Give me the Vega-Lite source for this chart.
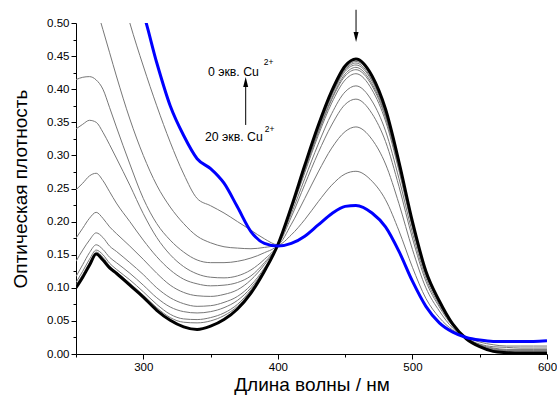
{
"$schema": "https://vega.github.io/schema/vega-lite/v6.json",
"width": 471,
"height": 331,
"autosize": {"type": "none"},
"padding": {"left": 76, "top": 23, "right": 10, "bottom": 47},
"background": "white",
"config": {"view": {"stroke": null}, "font": "Liberation Sans"},
"datasets": {
"spectra": [
{"s":"k","w":250,"a":0.100},{"s":"k","w":255,"a":0.116},{"s":"k","w":260,"a":0.134},{"s":"k","w":265,"a":0.151},{"s":"k","w":270,"a":0.142},{"s":"k","w":275,"a":0.130},{"s":"k","w":280,"a":0.122},{"s":"k","w":290,"a":0.104},{"s":"k","w":300,"a":0.086},{"s":"k","w":310,"a":0.066},{"s":"k","w":320,"a":0.051},{"s":"k","w":330,"a":0.041},{"s":"k","w":340,"a":0.037},{"s":"k","w":350,"a":0.042},{"s":"k","w":360,"a":0.052},{"s":"k","w":370,"a":0.068},{"s":"k","w":380,"a":0.092},{"s":"k","w":390,"a":0.125},{"s":"k","w":400,"a":0.165},
{"s":"k","w":410,"a":0.222},{"s":"k","w":420,"a":0.285},{"s":"k","w":430,"a":0.345},{"s":"k","w":440,"a":0.397},{"s":"k","w":450,"a":0.435},{"s":"k","w":458,"a":0.4456},{"s":"k","w":470,"a":0.420},{"s":"k","w":480,"a":0.370},{"s":"k","w":490,"a":0.290},{"s":"k","w":500,"a":0.200},{"s":"k","w":510,"a":0.125},{"s":"k","w":520,"a":0.080},{"s":"k","w":530,"a":0.045},{"s":"k","w":540,"a":0.023},{"s":"k","w":550,"a":0.011},{"s":"k","w":560,"a":0.004},{"s":"k","w":570,"a":0.002},{"s":"k","w":580,"a":0.001},{"s":"k","w":590,"a":0.001},{"s":"k","w":600,"a":0.001},
{"s":"b","w":250,"a":0.85},{"s":"b","w":255,"a":0.80},{"s":"b","w":260,"a":0.76},{"s":"b","w":265,"a":0.72},{"s":"b","w":270,"a":0.68},{"s":"b","w":275,"a":0.65},{"s":"b","w":280,"a":0.62},{"s":"b","w":290,"a":0.565},{"s":"b","w":300,"a":0.515},{"s":"b","w":310,"a":0.440},{"s":"b","w":320,"a":0.375},{"s":"b","w":330,"a":0.330},{"s":"b","w":340,"a":0.295},{"s":"b","w":350,"a":0.280},{"s":"b","w":360,"a":0.258},{"s":"b","w":370,"a":0.222},{"s":"b","w":380,"a":0.185},{"s":"b","w":390,"a":0.167},{"s":"b","w":400,"a":0.163},
{"s":"b","w":410,"a":0.167},{"s":"b","w":420,"a":0.178},{"s":"b","w":430,"a":0.195},{"s":"b","w":440,"a":0.212},{"s":"b","w":450,"a":0.223},{"s":"b","w":458,"a":0.2245},{"s":"b","w":470,"a":0.213},{"s":"b","w":480,"a":0.192},{"s":"b","w":490,"a":0.155},{"s":"b","w":500,"a":0.110},{"s":"b","w":510,"a":0.072},{"s":"b","w":520,"a":0.047},{"s":"b","w":530,"a":0.033},{"s":"b","w":540,"a":0.025},{"s":"b","w":550,"a":0.021},{"s":"b","w":560,"a":0.019},{"s":"b","w":570,"a":0.019},{"s":"b","w":580,"a":0.019},{"s":"b","w":590,"a":0.019},{"s":"b","w":600,"a":0.020},
{"s":"g01","w":250,"a":0.80},{"s":"g01","w":255,"a":0.77},{"s":"g01","w":260,"a":0.74},{"s":"g01","w":265,"a":0.70},{"s":"g01","w":270,"a":0.66},{"s":"g01","w":275,"a":0.615},{"s":"g01","w":280,"a":0.575},{"s":"g01","w":290,"a":0.50},{"s":"g01","w":300,"a":0.435},{"s":"g01","w":310,"a":0.375},{"s":"g01","w":320,"a":0.320},{"s":"g01","w":330,"a":0.272},{"s":"g01","w":340,"a":0.235},{"s":"g01","w":350,"a":0.224},{"s":"g01","w":360,"a":0.213},{"s":"g01","w":370,"a":0.200},{"s":"g01","w":380,"a":0.187},{"s":"g01","w":390,"a":0.174},{"s":"g01","w":400,"a":0.165},
{"s":"g01","w":410,"a":0.180},{"s":"g01","w":420,"a":0.203},{"s":"g01","w":430,"a":0.230},{"s":"g01","w":440,"a":0.255},{"s":"g01","w":450,"a":0.272},{"s":"g01","w":458,"a":0.276},{"s":"g01","w":470,"a":0.261},{"s":"g01","w":480,"a":0.233},{"s":"g01","w":490,"a":0.186},{"s":"g01","w":500,"a":0.131},{"s":"g01","w":510,"a":0.084},{"s":"g01","w":520,"a":0.055},{"s":"g01","w":530,"a":0.036},{"s":"g01","w":540,"a":0.025},{"s":"g01","w":550,"a":0.018},{"s":"g01","w":560,"a":0.014},{"s":"g01","w":570,"a":0.012},{"s":"g01","w":580,"a":0.012},{"s":"g01","w":590,"a":0.012},{"s":"g01","w":600,"a":0.012},
{"s":"g02","w":250,"a":0.62},{"s":"g02","w":255,"a":0.59},{"s":"g02","w":260,"a":0.56},{"s":"g02","w":265,"a":0.525},{"s":"g02","w":270,"a":0.49},{"s":"g02","w":275,"a":0.455},{"s":"g02","w":280,"a":0.42},{"s":"g02","w":290,"a":0.355},{"s":"g02","w":300,"a":0.300},{"s":"g02","w":310,"a":0.255},{"s":"g02","w":320,"a":0.222},{"s":"g02","w":330,"a":0.197},{"s":"g02","w":340,"a":0.178},{"s":"g02","w":350,"a":0.168},{"s":"g02","w":360,"a":0.162},{"s":"g02","w":370,"a":0.160},{"s":"g02","w":380,"a":0.159},{"s":"g02","w":390,"a":0.161},{"s":"g02","w":400,"a":0.165},
{"s":"g02","w":410,"a":0.196},{"s":"g02","w":420,"a":0.235},{"s":"g02","w":430,"a":0.275},{"s":"g02","w":440,"a":0.311},{"s":"g02","w":450,"a":0.336},{"s":"g02","w":458,"a":0.343},{"s":"g02","w":470,"a":0.324},{"s":"g02","w":480,"a":0.287},{"s":"g02","w":490,"a":0.227},{"s":"g02","w":500,"a":0.158},{"s":"g02","w":510,"a":0.100},{"s":"g02","w":520,"a":0.065},{"s":"g02","w":530,"a":0.039},{"s":"g02","w":540,"a":0.024},{"s":"g02","w":550,"a":0.015},{"s":"g02","w":560,"a":0.011},{"s":"g02","w":570,"a":0.010},{"s":"g02","w":580,"a":0.009},{"s":"g02","w":590,"a":0.009},{"s":"g02","w":600,"a":0.009},
{"s":"g03","w":250,"a":0.4145},{"s":"g03","w":255,"a":0.418},{"s":"g03","w":260,"a":0.419},{"s":"g03","w":265,"a":0.414},{"s":"g03","w":270,"a":0.400},{"s":"g03","w":275,"a":0.372},{"s":"g03","w":280,"a":0.343},{"s":"g03","w":290,"a":0.287},{"s":"g03","w":300,"a":0.235},{"s":"g03","w":310,"a":0.197},{"s":"g03","w":320,"a":0.172},{"s":"g03","w":330,"a":0.154},{"s":"g03","w":340,"a":0.142},{"s":"g03","w":350,"a":0.138},{"s":"g03","w":360,"a":0.138},{"s":"g03","w":370,"a":0.140},{"s":"g03","w":380,"a":0.145},{"s":"g03","w":390,"a":0.153},{"s":"g03","w":400,"a":0.165},
{"s":"g03","w":410,"a":0.207},{"s":"g03","w":420,"a":0.256},{"s":"g03","w":430,"a":0.304},{"s":"g03","w":440,"a":0.346},{"s":"g03","w":450,"a":0.377},{"s":"g03","w":458,"a":0.385},{"s":"g03","w":470,"a":0.363},{"s":"g03","w":480,"a":0.321},{"s":"g03","w":490,"a":0.253},{"s":"g03","w":500,"a":0.175},{"s":"g03","w":510,"a":0.110},{"s":"g03","w":520,"a":0.071},{"s":"g03","w":530,"a":0.042},{"s":"g03","w":540,"a":0.024},{"s":"g03","w":550,"a":0.014},{"s":"g03","w":560,"a":0.009},{"s":"g03","w":570,"a":0.007},{"s":"g03","w":580,"a":0.007},{"s":"g03","w":590,"a":0.007},{"s":"g03","w":600,"a":0.007},
{"s":"g04","w":250,"a":0.340},{"s":"g04","w":255,"a":0.347},{"s":"g04","w":260,"a":0.353},{"s":"g04","w":265,"a":0.350},{"s":"g04","w":270,"a":0.335},{"s":"g04","w":275,"a":0.316},{"s":"g04","w":280,"a":0.296},{"s":"g04","w":290,"a":0.255},{"s":"g04","w":300,"a":0.212},{"s":"g04","w":310,"a":0.176},{"s":"g04","w":320,"a":0.150},{"s":"g04","w":330,"a":0.132},{"s":"g04","w":340,"a":0.121},{"s":"g04","w":350,"a":0.116},{"s":"g04","w":360,"a":0.115},{"s":"g04","w":370,"a":0.118},{"s":"g04","w":380,"a":0.127},{"s":"g04","w":390,"a":0.143},{"s":"g04","w":400,"a":0.165},
{"s":"g04","w":410,"a":0.212},{"s":"g04","w":420,"a":0.265},{"s":"g04","w":430,"a":0.317},{"s":"g04","w":440,"a":0.363},{"s":"g04","w":450,"a":0.396},{"s":"g04","w":458,"a":0.405},{"s":"g04","w":470,"a":0.382},{"s":"g04","w":480,"a":0.337},{"s":"g04","w":490,"a":0.265},{"s":"g04","w":500,"a":0.183},{"s":"g04","w":510,"a":0.115},{"s":"g04","w":520,"a":0.074},{"s":"g04","w":530,"a":0.043},{"s":"g04","w":540,"a":0.023},{"s":"g04","w":550,"a":0.013},{"s":"g04","w":560,"a":0.008},{"s":"g04","w":570,"a":0.006},{"s":"g04","w":580,"a":0.006},{"s":"g04","w":590,"a":0.006},{"s":"g04","w":600,"a":0.006},
{"s":"g05","w":250,"a":0.248},{"s":"g05","w":255,"a":0.258},{"s":"g05","w":260,"a":0.269},{"s":"g05","w":265,"a":0.273},{"s":"g05","w":270,"a":0.262},{"s":"g05","w":275,"a":0.245},{"s":"g05","w":280,"a":0.228},{"s":"g05","w":290,"a":0.200},{"s":"g05","w":300,"a":0.172},{"s":"g05","w":310,"a":0.147},{"s":"g05","w":320,"a":0.127},{"s":"g05","w":330,"a":0.113},{"s":"g05","w":340,"a":0.106},{"s":"g05","w":350,"a":0.103},{"s":"g05","w":360,"a":0.104},{"s":"g05","w":370,"a":0.108},{"s":"g05","w":380,"a":0.118},{"s":"g05","w":390,"a":0.138},{"s":"g05","w":400,"a":0.165},
{"s":"g05","w":410,"a":0.217},{"s":"g05","w":420,"a":0.274},{"s":"g05","w":430,"a":0.330},{"s":"g05","w":440,"a":0.379},{"s":"g05","w":450,"a":0.414},{"s":"g05","w":458,"a":0.4234},{"s":"g05","w":470,"a":0.399},{"s":"g05","w":480,"a":0.352},{"s":"g05","w":490,"a":0.277},{"s":"g05","w":500,"a":0.191},{"s":"g05","w":510,"a":0.120},{"s":"g05","w":520,"a":0.077},{"s":"g05","w":530,"a":0.044},{"s":"g05","w":540,"a":0.023},{"s":"g05","w":550,"a":0.012},{"s":"g05","w":560,"a":0.007},{"s":"g05","w":570,"a":0.005},{"s":"g05","w":580,"a":0.005},{"s":"g05","w":590,"a":0.005},{"s":"g05","w":600,"a":0.005},
{"s":"g06","w":250,"a":0.175},{"s":"g06","w":255,"a":0.190},{"s":"g06","w":260,"a":0.205},{"s":"g06","w":265,"a":0.214},{"s":"g06","w":270,"a":0.205},{"s":"g06","w":275,"a":0.192},{"s":"g06","w":280,"a":0.182},{"s":"g06","w":290,"a":0.163},{"s":"g06","w":300,"a":0.143},{"s":"g06","w":310,"a":0.122},{"s":"g06","w":320,"a":0.104},{"s":"g06","w":330,"a":0.093},{"s":"g06","w":340,"a":0.088},{"s":"g06","w":350,"a":0.087},{"s":"g06","w":360,"a":0.090},{"s":"g06","w":370,"a":0.097},{"s":"g06","w":380,"a":0.112},{"s":"g06","w":390,"a":0.135},{"s":"g06","w":400,"a":0.165},
{"s":"g06","w":410,"a":0.218},{"s":"g06","w":420,"a":0.277},{"s":"g06","w":430,"a":0.334},{"s":"g06","w":440,"a":0.384},{"s":"g06","w":450,"a":0.420},{"s":"g06","w":458,"a":0.4295},{"s":"g06","w":470,"a":0.405},{"s":"g06","w":480,"a":0.357},{"s":"g06","w":490,"a":0.280},{"s":"g06","w":500,"a":0.193},{"s":"g06","w":510,"a":0.121},{"s":"g06","w":520,"a":0.078},{"s":"g06","w":530,"a":0.044},{"s":"g06","w":540,"a":0.023},{"s":"g06","w":550,"a":0.012},{"s":"g06","w":560,"a":0.006},{"s":"g06","w":570,"a":0.004},{"s":"g06","w":580,"a":0.004},{"s":"g06","w":590,"a":0.004},{"s":"g06","w":600,"a":0.004},
{"s":"g07","w":250,"a":0.140},{"s":"g07","w":255,"a":0.157},{"s":"g07","w":260,"a":0.172},{"s":"g07","w":265,"a":0.183},{"s":"g07","w":270,"a":0.176},{"s":"g07","w":275,"a":0.163},{"s":"g07","w":280,"a":0.155},{"s":"g07","w":290,"a":0.138},{"s":"g07","w":300,"a":0.120},{"s":"g07","w":310,"a":0.100},{"s":"g07","w":320,"a":0.085},{"s":"g07","w":330,"a":0.076},{"s":"g07","w":340,"a":0.072},{"s":"g07","w":350,"a":0.073},{"s":"g07","w":360,"a":0.078},{"s":"g07","w":370,"a":0.087},{"s":"g07","w":380,"a":0.104},{"s":"g07","w":390,"a":0.130},{"s":"g07","w":400,"a":0.165},
{"s":"g07","w":410,"a":0.219},{"s":"g07","w":420,"a":0.279},{"s":"g07","w":430,"a":0.336},{"s":"g07","w":440,"a":0.386},{"s":"g07","w":450,"a":0.423},{"s":"g07","w":458,"a":0.433},{"s":"g07","w":470,"a":0.408},{"s":"g07","w":480,"a":0.360},{"s":"g07","w":490,"a":0.282},{"s":"g07","w":500,"a":0.195},{"s":"g07","w":510,"a":0.122},{"s":"g07","w":520,"a":0.078},{"s":"g07","w":530,"a":0.044},{"s":"g07","w":540,"a":0.023},{"s":"g07","w":550,"a":0.011},{"s":"g07","w":560,"a":0.005},{"s":"g07","w":570,"a":0.004},{"s":"g07","w":580,"a":0.003},{"s":"g07","w":590,"a":0.003},{"s":"g07","w":600,"a":0.003},
{"s":"g08","w":250,"a":0.117},{"s":"g08","w":255,"a":0.135},{"s":"g08","w":260,"a":0.153},{"s":"g08","w":265,"a":0.165},{"s":"g08","w":270,"a":0.158},{"s":"g08","w":275,"a":0.146},{"s":"g08","w":280,"a":0.138},{"s":"g08","w":290,"a":0.122},{"s":"g08","w":300,"a":0.104},{"s":"g08","w":310,"a":0.085},{"s":"g08","w":320,"a":0.071},{"s":"g08","w":330,"a":0.064},{"s":"g08","w":340,"a":0.062},{"s":"g08","w":350,"a":0.064},{"s":"g08","w":360,"a":0.070},{"s":"g08","w":370,"a":0.081},{"s":"g08","w":380,"a":0.100},{"s":"g08","w":390,"a":0.128},{"s":"g08","w":400,"a":0.165},
{"s":"g08","w":410,"a":0.220},{"s":"g08","w":420,"a":0.281},{"s":"g08","w":430,"a":0.339},{"s":"g08","w":440,"a":0.390},{"s":"g08","w":450,"a":0.427},{"s":"g08","w":458,"a":0.4366},{"s":"g08","w":470,"a":0.412},{"s":"g08","w":480,"a":0.363},{"s":"g08","w":490,"a":0.285},{"s":"g08","w":500,"a":0.196},{"s":"g08","w":510,"a":0.123},{"s":"g08","w":520,"a":0.079},{"s":"g08","w":530,"a":0.045},{"s":"g08","w":540,"a":0.023},{"s":"g08","w":550,"a":0.011},{"s":"g08","w":560,"a":0.005},{"s":"g08","w":570,"a":0.003},{"s":"g08","w":580,"a":0.003},{"s":"g08","w":590,"a":0.003},{"s":"g08","w":600,"a":0.003},
{"s":"g09","w":250,"a":0.108},{"s":"g09","w":255,"a":0.125},{"s":"g09","w":260,"a":0.143},{"s":"g09","w":265,"a":0.157},{"s":"g09","w":270,"a":0.150},{"s":"g09","w":275,"a":0.137},{"s":"g09","w":280,"a":0.128},{"s":"g09","w":290,"a":0.112},{"s":"g09","w":300,"a":0.094},{"s":"g09","w":310,"a":0.075},{"s":"g09","w":320,"a":0.060},{"s":"g09","w":330,"a":0.053},{"s":"g09","w":340,"a":0.052},{"s":"g09","w":350,"a":0.055},{"s":"g09","w":360,"a":0.062},{"s":"g09","w":370,"a":0.075},{"s":"g09","w":380,"a":0.097},{"s":"g09","w":390,"a":0.127},{"s":"g09","w":400,"a":0.165},
{"s":"g09","w":410,"a":0.221},{"s":"g09","w":420,"a":0.282},{"s":"g09","w":430,"a":0.341},{"s":"g09","w":440,"a":0.392},{"s":"g09","w":450,"a":0.429},{"s":"g09","w":458,"a":0.4396},{"s":"g09","w":470,"a":0.414},{"s":"g09","w":480,"a":0.365},{"s":"g09","w":490,"a":0.286},{"s":"g09","w":500,"a":0.198},{"s":"g09","w":510,"a":0.124},{"s":"g09","w":520,"a":0.079},{"s":"g09","w":530,"a":0.045},{"s":"g09","w":540,"a":0.023},{"s":"g09","w":550,"a":0.011},{"s":"g09","w":560,"a":0.004},{"s":"g09","w":570,"a":0.002},{"s":"g09","w":580,"a":0.002},{"s":"g09","w":590,"a":0.002},{"s":"g09","w":600,"a":0.002},
{"s":"g10","w":250,"a":0.104},{"s":"g10","w":255,"a":0.120},{"s":"g10","w":260,"a":0.138},{"s":"g10","w":265,"a":0.154},{"s":"g10","w":270,"a":0.146},{"s":"g10","w":275,"a":0.133},{"s":"g10","w":280,"a":0.124},{"s":"g10","w":290,"a":0.107},{"s":"g10","w":300,"a":0.089},{"s":"g10","w":310,"a":0.070},{"s":"g10","w":320,"a":0.055},{"s":"g10","w":330,"a":0.048},{"s":"g10","w":340,"a":0.047},{"s":"g10","w":350,"a":0.050},{"s":"g10","w":360,"a":0.058},{"s":"g10","w":370,"a":0.072},{"s":"g10","w":380,"a":0.095},{"s":"g10","w":390,"a":0.126},{"s":"g10","w":400,"a":0.165},
{"s":"g10","w":410,"a":0.221},{"s":"g10","w":420,"a":0.284},{"s":"g10","w":430,"a":0.343},{"s":"g10","w":440,"a":0.394},{"s":"g10","w":450,"a":0.431},{"s":"g10","w":458,"a":0.442},{"s":"g10","w":470,"a":0.417},{"s":"g10","w":480,"a":0.367},{"s":"g10","w":490,"a":0.288},{"s":"g10","w":500,"a":0.199},{"s":"g10","w":510,"a":0.124},{"s":"g10","w":520,"a":0.079},{"s":"g10","w":530,"a":0.045},{"s":"g10","w":540,"a":0.023},{"s":"g10","w":550,"a":0.011},{"s":"g10","w":560,"a":0.004},{"s":"g10","w":570,"a":0.002},{"s":"g10","w":580,"a":0.001},{"s":"g10","w":590,"a":0.001},{"s":"g10","w":600,"a":0.001}
],
"labels": [{"t":"0 экв. Cu","w":348.0,"a":0.420},{"t":"20 экв. Cu","w":345.8,"a":0.322}],
"sups": [{"t":"2+","w":389.5,"a":0.437},{"t":"2+","w":390.2,"a":0.336}],
"arrows": [{"w":458.1,"a1":0.52,"a2":0.484},{"w":376.1,"a1":0.346,"a2":0.41}],
"heads": [{"w":458.1,"a":0.479,"d":"down"},{"w":376.1,"a":0.411,"d":"up"}]
},
"layer": [
{
"data": {"name": "spectra"},
"transform": [{"filter": "datum.s != 'k' && datum.s != 'b'"}],
"mark": {"type": "line", "clip": true, "interpolate": "monotone", "strokeWidth": 1, "color": "#777777"},
"encoding": {
"x": {"field": "w", "type": "quantitative", "scale": {"domain": [250, 600], "nice": false, "zero": false},
"axis": {"orient": "bottom", "values": [300, 400, 500, 600], "format": "d", "title": "Длина волны / нм", "titleFontSize": 19, "titleFontWeight": "normal", "titleColor": "black", "titlePadding": 3, "labelFontSize": 11.5, "labelColor": "black", "labelPadding": 2, "tickSize": 5, "tickColor": "black", "domainColor": "black", "grid": false, "labelFlush": false}},
"y": {"field": "a", "type": "quantitative", "scale": {"domain": [0, 0.5], "nice": false},
"axis": {"orient": "left", "values": [0, 0.05, 0.1, 0.15, 0.2, 0.25, 0.3, 0.35, 0.4, 0.45, 0.5], "format": ".2f", "title": "Оптическая плотность", "titleFontSize": 19, "titleFontWeight": "normal", "titleColor": "black", "titlePadding": 16, "labelFontSize": 11.5, "labelColor": "black", "labelPadding": 2, "tickSize": 5, "tickColor": "black", "domainColor": "black", "grid": false, "labelFlush": false}},
"detail": {"field": "s"}
}
},
{
"data": {"name": "spectra"},
"transform": [{"filter": "datum.s == 'k'"}],
"mark": {"type": "line", "clip": true, "interpolate": "monotone", "strokeWidth": 3, "color": "black"},
"encoding": {
"x": {"field": "w", "type": "quantitative", "axis": {"orient": "bottom", "values": [250, 350, 450, 550], "labels": false, "tickSize": 3, "tickColor": "black", "domain": false, "title": null, "grid": false}},
"y": {"field": "a", "type": "quantitative", "axis": {"orient": "left", "values": [0.025, 0.075, 0.125, 0.175, 0.225, 0.275, 0.325, 0.375, 0.425, 0.475], "labels": false, "tickSize": 3, "tickColor": "black", "domain": false, "title": null, "grid": false}}
}
},
{
"data": {"name": "spectra"},
"transform": [{"filter": "datum.s == 'b'"}],
"mark": {"type": "line", "clip": true, "interpolate": "monotone", "strokeWidth": 3, "color": "#0000ff"},
"encoding": {
"x": {"field": "w", "type": "quantitative", "axis": null},
"y": {"field": "a", "type": "quantitative", "axis": null}
}
},
{
"data": {"name": "arrows"},
"mark": {"type": "rule", "color": "black", "strokeWidth": 1},
"encoding": {
"x": {"field": "w", "type": "quantitative", "axis": null},
"y": {"field": "a1", "type": "quantitative", "axis": null},
"y2": {"field": "a2"}
}
},
{
"data": {"name": "heads"},
"mark": {"type": "point", "filled": true, "color": "black", "size": 100, "strokeWidth": 0, "opacity": 1},
"encoding": {
"x": {"field": "w", "type": "quantitative", "axis": null},
"y": {"field": "a", "type": "quantitative", "axis": null},
"shape": {"field": "d", "type": "nominal", "scale": {"domain": ["up", "down"], "range": ["M0,-1L0.5,1L-0.5,1Z", "M0,1L0.5,-1L-0.5,-1Z"]}, "legend": null}
}
},
{
"data": {"name": "labels"},
"mark": {"type": "text", "align": "left", "baseline": "alphabetic", "fontSize": 12.3, "font": "Liberation Sans", "color": "black"},
"encoding": {
"x": {"field": "w", "type": "quantitative", "axis": null},
"y": {"field": "a", "type": "quantitative", "axis": null},
"text": {"field": "t"}
}
},
{
"data": {"name": "sups"},
"mark": {"type": "text", "align": "left", "baseline": "alphabetic", "fontSize": 8.5, "font": "Liberation Sans", "color": "black"},
"encoding": {
"x": {"field": "w", "type": "quantitative", "axis": null},
"y": {"field": "a", "type": "quantitative", "axis": null},
"text": {"field": "t"}
}
}
],
"resolve": {"axis": {"x": "independent", "y": "independent"}}
}
